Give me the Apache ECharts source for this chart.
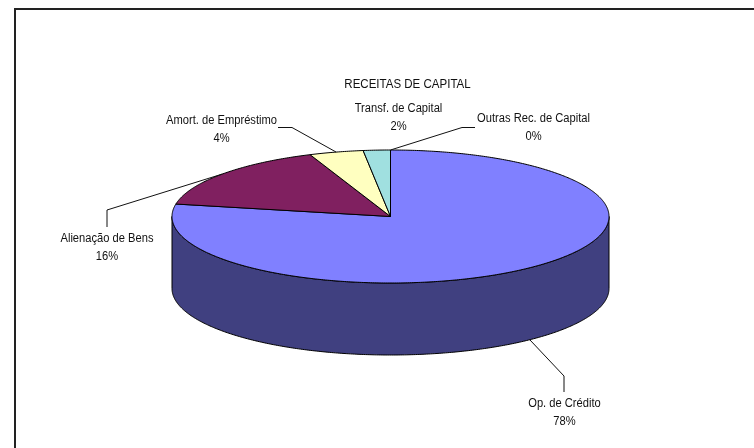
<!DOCTYPE html>
<html>
<head>
<meta charset="utf-8">
<style>html,body{margin:0;padding:0;background:#fff}#chart{width:754px;height:448px}</style>
<script src="https://cdn.jsdelivr.net/npm/echarts@6/dist/echarts.min.js"></script>
</head>
<body>
<div id="chart"></div>
<script>
// Capital revenue breakdown, in percent, clockwise from twelve o'clock
const categories = ['Op. de Crédito', 'Alienação de Bens', 'Amort. de Empréstimo', 'Transf. de Capital', 'Outras Rec. de Capital'];
const shares = [78, 16, 4, 2, 0];
const topColors = ['#8080ff', '#802060', '#ffffc0', '#a0e0e0', '#ffffff'];
const wallColors = ['#404080', '#401030', '#808060', '#507070', '#808080'];
const chartTitle = 'RECEITAS DE CAPITAL';

// Tilted disc geometry
const disc = { cx: 390.5, cy: 216.5, rx: 218.5, ry: 66.5, depth: 72 };

// Label centres and leader bends, one per category
const labelBoxes = [
  { x: 564.5, y: 403, bend: [[564, 376], [564, 392]], wall: true },
  { x: 107, y: 238, bend: [[107, 210], [107, 227]] },
  { x: 221.5, y: 120, bend: [[292, 127.5], [278, 127.5]] },
  { x: 398.5, y: 108, bend: null },
  { x: 533.5, y: 118, bend: [[462, 127.5], [475, 127.5]] }
];

const total = shares.reduce((a, b) => a + b, 0);

// Point on the disc rim; angle is measured clockwise from the top
function rim(angle, drop) {
  return [
    disc.cx + disc.rx * Math.sin(angle),
    disc.cy - disc.ry * Math.cos(angle) + (drop || 0)
  ];
}

function arcPoints(from, to, drop) {
  const steps = Math.max(2, Math.ceil((to - from) / 0.01));
  const pts = [];
  for (let i = 0; i <= steps; i++) pts.push(rim(from + (to - from) * i / steps, drop));
  return pts;
}

const outline = { stroke: '#000', lineWidth: 1 };
const leaderStyle = { fill: null, stroke: '#111', lineWidth: 1 };
const font = '12px "Liberation Sans", Arial, sans-serif';

// Narrowed 12px text, as the labels are set with tight tracking
function textEl(x, y, text, squeeze) {
  return {
    type: 'text',
    x: x,
    y: y,
    scaleX: squeeze,
    style: {
      x: 0,
      y: 0,
      text: text,
      font: font,
      lineHeight: 17.5,
      fill: '#111',
      align: 'center',
      verticalAlign: 'top'
    }
  };
}

function slicePieces() {
  const walls = [], tops = [], labels = [];
  let acc = 0;
  shares.forEach((value, i) => {
    const from = acc / total * 2 * Math.PI;
    acc += value;
    const to = acc / total * 2 * Math.PI;
    const mid = (from + to) / 2;

    // Only the front half of the rim shows a wall
    const wallFrom = Math.max(from, Math.PI / 2);
    const wallTo = Math.min(to, Math.PI * 3 / 2);
    if (wallTo > wallFrom) {
      const front = arcPoints(wallFrom, wallTo, 0);
      const back = arcPoints(wallFrom, wallTo, disc.depth).reverse();
      walls.push({
        type: 'polygon',
        shape: { points: front.concat(back) },
        style: { fill: wallColors[i], ...outline }
      });
    }

    if (value > 0) {
      tops.push({
        type: 'polygon',
        shape: { points: [[disc.cx, disc.cy]].concat(arcPoints(from, to, 0)) },
        style: { fill: topColors[i], ...outline }
      });
    }

    const box = labelBoxes[i];
    if (box.bend) {
      labels.push({
        type: 'polyline',
        shape: { points: [rim(mid, box.wall ? disc.depth : 0)].concat(box.bend) },
        style: leaderStyle
      });
    }
    labels.push(textEl(box.x, box.y - 8, categories[i] + '\n' + value + '%', 0.93));
  });
  labels.push(textEl(407.5, 76, chartTitle, 0.96));
  return walls.concat(tops, labels);
}

const chart = echarts.init(document.getElementById('chart'), null, { renderer: 'canvas' });
chart.setOption({
  animation: false,
  backgroundColor: '#fff',
  // Frame runs along the top and left edges only
  graphic: [{
    type: 'polyline',
    shape: { points: [[15, 448], [15, 9], [754, 9]] },
    style: { fill: null, stroke: '#222', lineWidth: 2 },
    silent: true
  }],
  series: [{
    type: 'custom',
    coordinateSystem: 'none',
    silent: true,
    data: [0],
    renderItem: () => ({ type: 'group', children: slicePieces() })
  }]
});
</script>
</body>
</html>
